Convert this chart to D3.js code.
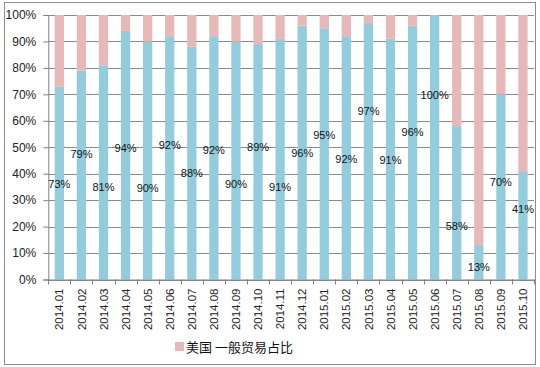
<!DOCTYPE html>
<html><head><meta charset="utf-8">
<script src="https://cdn.jsdelivr.net/npm/d3@7"></script>
<style>body{margin:0;background:#fff}svg{display:block}</style>
</head><body><svg id="c" width="540" height="367"></svg>
<script>
const categories = ["2014.01","2014.02","2014.03","2014.04","2014.05","2014.06","2014.07","2014.08","2014.09","2014.10","2014.11","2014.12","2015.01","2015.02","2015.03","2015.04","2015.05","2015.06","2015.07","2015.08","2015.09","2015.10"];
const generalShare = [73,79,81,94,90,92,88,92,90,89,91,96,95,92,97,91,96,100,58,13,70,41];
const otherShare   = [27,21,19,6,10,8,12,8,10,11,9,4,5,8,3,9,4,0,42,87,30,59];
const labelAt      = [36.1,47.3,34.9,49.6,34.5,50.9,40.2,49.0,36.1,50.2,34.9,47.7,54.4,45.4,63.7,45.2,55.7,69.8,20.0,4.8,36.7,26.5];
const yTicks = [0,10,20,30,40,50,60,70,80,90,100];
const legendLabel = "美国 一般贸易占比";

const svg = d3.select("#c");
const L = 48.3, R = 534, T = 15, B = 279.5;
const x = d3.scaleBand().domain(categories).range([L, R]).paddingInner(0.58).paddingOuter(0.29);
const y = d3.scaleLinear().domain([0, 100]).range([B, T]);
const blue = "#93CDDD", pink = "#E6B9B8";

// outer border
svg.append("rect").attr("x", 4.5).attr("y", 2.5).attr("width", 531).attr("height", 362)
  .attr("fill", "none").attr("stroke", "#8c8c8c").attr("stroke-width", 1);

// gridlines
svg.append("g").selectAll("line").data(yTicks).join("line")
  .attr("x1", L).attr("x2", R).attr("y1", d => Math.round(y(d)) + 0.5).attr("y2", d => Math.round(y(d)) + 0.5)
  .attr("stroke", "#8a8a8a").attr("stroke-width", 1);

// bars
const g = svg.append("g");
g.selectAll("rect.b").data(categories).join("rect").attr("class", "b")
  .attr("x", d => x(d)).attr("width", x.bandwidth())
  .attr("y", (d, i) => y(generalShare[i])).attr("height", (d, i) => y(0) - y(generalShare[i]))
  .attr("fill", blue);
g.selectAll("rect.p").data(categories).join("rect").attr("class", "p")
  .attr("x", d => x(d)).attr("width", x.bandwidth())
  .attr("y", (d, i) => y(generalShare[i] + otherShare[i])).attr("height", (d, i) => y(generalShare[i]) - y(generalShare[i] + otherShare[i]))
  .attr("fill", pink);

// y axis
const ya = svg.append("g").attr("transform", `translate(${L},0)`)
  .call(d3.axisLeft(y).tickValues(yTicks).tickFormat(d => d + "%").tickSize(5).tickPadding(7));
ya.select(".domain").attr("stroke", "#808080");
ya.selectAll(".tick line").attr("stroke", "#808080");
ya.selectAll("text").attr("font-family", "Liberation Sans, Arial, sans-serif").attr("font-size", "12px").attr("fill", "#222");

// x axis
const xa = svg.append("g").attr("transform", `translate(0,${B})`)
  .call(d3.axisBottom(x).tickSize(0).tickPadding(0));
xa.select(".domain").attr("stroke", "#808080");
xa.selectAll(".tick text")
  .attr("font-family", "Liberation Sans, Arial, sans-serif").attr("font-size", "11.5px").attr("fill", "#222")
  .attr("transform", "rotate(-90)").attr("text-anchor", "end").attr("x", -9).attr("y", 0).attr("dy", "0.36em");
// boundary ticks
const edges = categories.map(c => x(c) - x.step() * x.paddingInner() / 2).concat([R]);
xa.append("g").selectAll("line").data(edges).join("line")
  .attr("x1", d => Math.round(d) + 0.5).attr("x2", d => Math.round(d) + 0.5).attr("y1", 0).attr("y2", 5)
  .attr("stroke", "#808080");

// data labels
svg.append("g").selectAll("text").data(categories).join("text")
  .attr("x", d => x(d) + x.bandwidth() / 2)
  .attr("y", (d, i) => y(labelAt[i]))
  .attr("dy", "0.35em").attr("text-anchor", "middle")
  .attr("font-family", "Liberation Sans, Arial, sans-serif").attr("font-size", "11px").attr("fill", "#111")
  .text((d, i) => generalShare[i] + "%");

// legend
svg.append("rect").attr("x", 175).attr("y", 342).attr("width", 9).attr("height", 9).attr("fill", pink);
svg.append("text").attr("x", 186).attr("y", 351.5)
  .attr("font-family", "Noto Sans CJK SC, sans-serif").attr("font-size", "13px").attr("fill", "#111")
  .text(legendLabel);
</script></body></html>
